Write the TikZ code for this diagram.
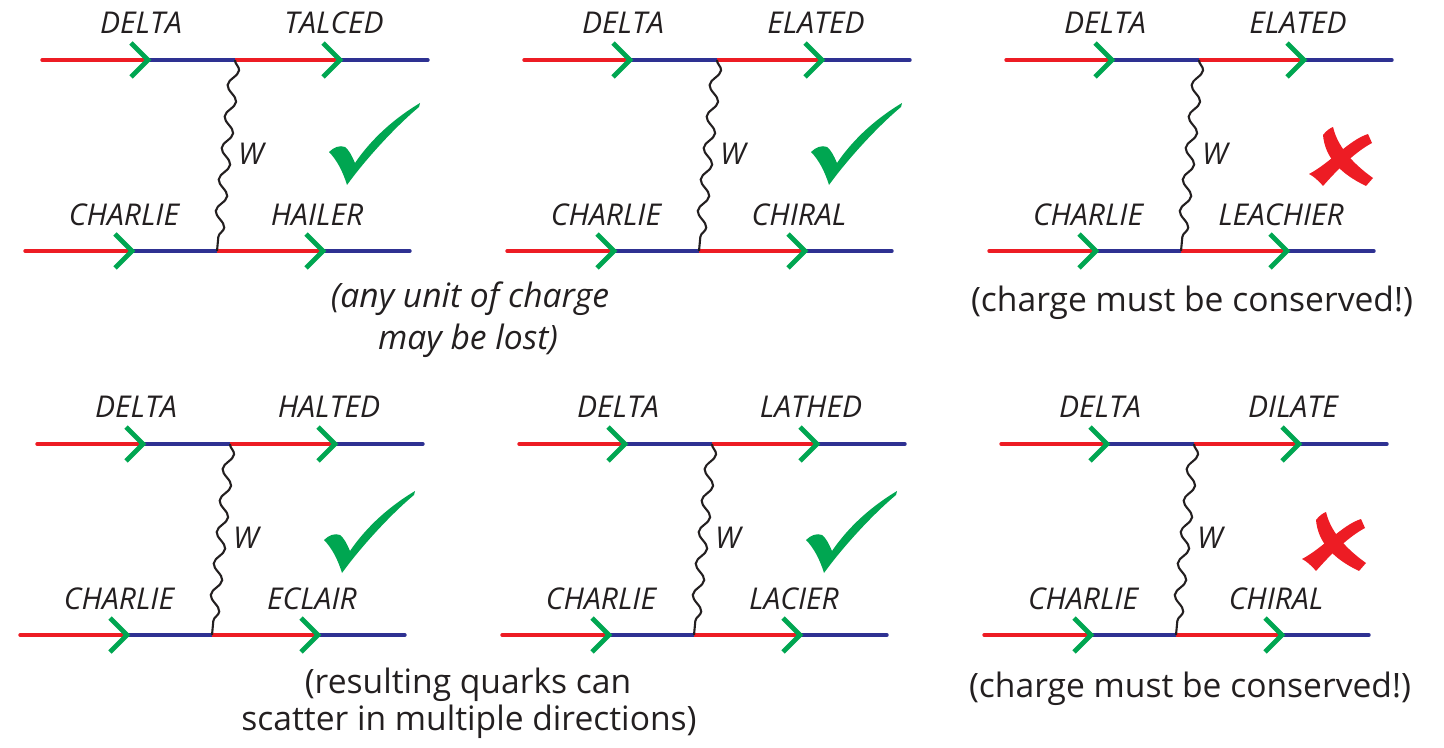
\documentclass[tikz,border=0pt]{standalone}
\usepackage{fontspec}
\setmainfont{Open Sans}
\usetikzlibrary{decorations.pathmorphing}

\definecolor{qred}{RGB}{237,28,36}
\definecolor{qblue}{RGB}{46,49,146}
\definecolor{qgreen}{RGB}{0,166,81}
\definecolor{inkgrey}{RGB}{35,31,32}

\tikzset{
  quark/.style={line width=1.7pt},
  redq/.style={quark,qred},
  blueq/.style={quark,qblue},
  redqcap/.style={redq,line cap=round},
  blueqcap/.style={blueq,line cap=round},
  chev/.style={qgreen,line width=2.4pt,line join=miter},
  wboson/.style={inkgrey,line width=1.05pt,
    decorate,decoration={snake,amplitude=2.5pt,segment length=15.8pt}},
  lab/.style={text=inkgrey,font=\fontsize{15}{17}\selectfont\itshape,inner sep=0pt},
  caption/.style={text=inkgrey,font=\fontsize{16.8}{19}\selectfont,inner sep=0pt,anchor=base},
  slanted caption/.style={caption,font=\fontsize{16.8}{19}\selectfont\itshape},
  okmark/.pic={
    \fill[qgreen] (-18,-33) .. controls (-13,-38) and (-7,-40) .. (-2,-38)
      .. controls (2,-35) and (5,-29) .. (8,-22)
      .. controls (25,-47) and (48,-67) .. (73,-82)
      -- (72,-78)
      .. controls (48,-58) and (18,-25) .. (0,0)
      .. controls (-4,-13) and (-10,-25) .. cycle;
  },
  nomark/.pic={
    \fill[qred] (-18,-21) .. controls (-15,-25) and (-11,-28) .. (-8,-29)
      .. controls (-5,-16) and (4,2) .. (32,22)
      -- (25,30)
      .. controls (0,18) and (-16,2) .. cycle;
    \fill[qred] (27,-22) -- (31,-13)
      .. controls (14,-4) and (-4,14) .. (-18,30)
      .. controls (-23,24) and (-28,20) .. (-32,18)
      .. controls (-11,7) and (8,-16) .. cycle;
  }
}

% one exchange diagram: #1 name prefix, #2,#3 offset,
% #4 incoming top, #5 outgoing top, #6 incoming bottom, #7 outgoing bottom
\newcommand\exchange[7]{%
  \begin{scope}[shift={(#2,#3)}]
    \coordinate (#1t0) at (42,60);
    \coordinate (#1t1) at (148,60);
    \coordinate (#1tv) at (235,60);
    \coordinate (#1t2) at (340,60);
    \coordinate (#1t3) at (428,60);
    \coordinate (#1b0) at (25,251);
    \coordinate (#1b1) at (132,251);
    \coordinate (#1bv) at (217,251);
    \coordinate (#1b2) at (323,251);
    \coordinate (#1b3) at (410,251);
    % upper quark line
    \draw[redqcap] (#1t0) -- (#1t1);
    \draw[blueq] (#1t1) -- (#1tv);
    \draw[redq] (#1tv) -- (#1t2);
    \draw[blueqcap] (#1t2) -- (#1t3);
    % lower quark line
    \draw[redqcap] (#1b0) -- (#1b1);
    \draw[blueq] (#1b1) -- (#1bv);
    \draw[redq] (#1bv) -- (#1b2);
    \draw[blueqcap] (#1b2) -- (#1b3);
    % direction chevrons
    \foreach \p in {t1,t2,b1,b2}
      \draw[chev] ([shift={(-17,-17)}]#1\p) -- (#1\p) -- ([shift={(-17,17)}]#1\p);
    % W exchange
    \draw[wboson] (#1tv) -- (#1bv);
    \node[lab] (#1w) at (251,154) {W};
    \node[lab] (#1ul) at (141,23) {#4};
    \node[lab] (#1ur) at (334,23) {#5};
    \node[lab] (#1ll) at (124,215) {#6};
    \node[lab] (#1lr) at (317,215) {#7};
  \end{scope}}

\begin{document}
\begin{tikzpicture}[x=0.5pt,y=-0.5pt]
  \useasboundingbox (0,0) rectangle (1444,748);

  \exchange{a}{0}{0}{DELTA}{TALCED}{CHARLIE}{HAILER}
  \exchange{b}{482}{0}{DELTA}{ELATED}{CHARLIE}{CHIRAL}
  \exchange{c}{964}{0}{DELTA}{ELATED}{CHARLIE}{LEACHIER}
  \exchange{d}{-5}{384}{DELTA}{HALTED}{CHARLIE}{ECLAIR}
  \exchange{e}{477}{384}{DELTA}{LATHED}{CHARLIE}{LACIER}
  \exchange{f}{959}{384}{DELTA}{DILATE}{CHARLIE}{CHIRAL}

  \pic at (347,185) {okmark};
  \pic at (829,185) {okmark};
  \pic at (1341,156) {nomark};
  \pic at (342,573) {okmark};
  \pic at (824,573) {okmark};
  \pic at (1334,541) {nomark};

  \node[slanted caption] (cap1a) at (470,308) {(any unit of charge};
  \node[slanted caption] (cap1b) at (468,350) {may be lost)};
  \node[caption] (cap2) at (1192,312) {(charge must be conserved!)};
  \node[caption] (cap3a) at (468,693) {(resulting quarks can};
  \node[caption] (cap3b) at (469,730) {scatter in multiple directions)};
  \node[caption] (cap4) at (1190,697) {(charge must be conserved!)};
\end{tikzpicture}
\end{document}
